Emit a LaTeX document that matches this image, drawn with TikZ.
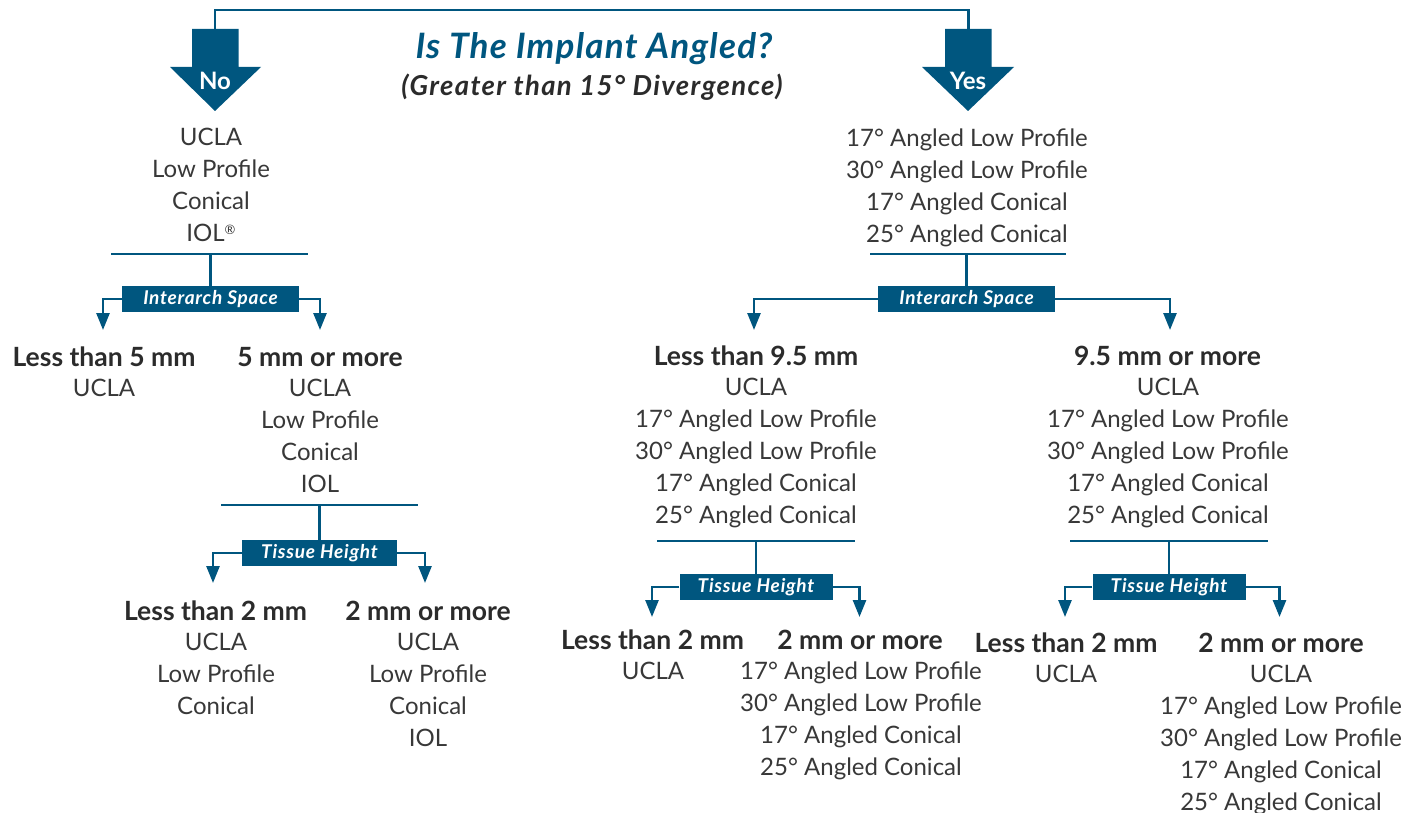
\documentclass[tikz,border=0pt]{standalone}
\usepackage{fontspec}
\setmainfont{Lato}
\usetikzlibrary{arrows.meta}
\definecolor{dblue}{HTML}{00567F}
\definecolor{txt}{HTML}{2B2B2B}
\definecolor{ltxt}{HTML}{383838}
\newcommand{\reg}{{\fontsize{13}{13}\selectfont\raisebox{7pt}{®}}}
\begin{document}
\begin{tikzpicture}[x=1pt,y=-1pt,
  conn/.style={draw=dblue, line width=2.6pt},
  arr/.style={conn, -{Triangle[width=13pt,length=17pt]}},
  lst/.style={align=center, anchor=base, inner sep=0pt, text=ltxt, font=\fontsize{24}{32}\selectfont},
  hd/.style={anchor=base, inner sep=0pt, text=txt, font=\fontsize{26.5}{30}\selectfont\bfseries},
  tag/.style={fill=dblue, text=white, inner sep=0pt, minimum height=26pt, font=\fontsize{19}{22}\selectfont\bfseries\itshape\addfontfeature{LetterSpace=4}},
  big/.style={fill=dblue},
  bigtxt/.style={text=white, font=\fontsize{24}{26}\selectfont\bfseries, inner sep=0pt}]
\useasboundingbox (0,0) rectangle (1418,813);

% big arrows
\fill[big] (192,29) -- (238.5,29) -- (238.5,67) -- (261,67) -- (215,111) -- (170,67) -- (192,67) -- cycle;
\fill[big] (945,29) -- (991.5,29) -- (991.5,67) -- (1014,67) -- (968,111) -- (922,67) -- (945,67) -- cycle;
\node[bigtxt] (noLbl) at (215,81) {No};
\node[bigtxt] (yesLbl) at (968,81) {Yes};
\coordinate (noTop) at (215,30);
\coordinate (yesTop) at (968.5,30);
\coordinate (topY) at (0,10);
\draw[conn] (noTop) -- (noTop |- topY) -| (yesTop);

% title
\node[anchor=base, text=dblue, inner sep=0pt, font=\fontsize{35}{38}\selectfont\bfseries\itshape\addfontfeature{LetterSpace=3.5}] (title) at (594,59) {Is The Implant Angled?};
\node[anchor=base, text=txt, inner sep=0pt, font=\fontsize{27.5}{30}\selectfont\bfseries\itshape\addfontfeature{LetterSpace=5}] (sub) at (592,96) {(Greater than 15° Divergence)};

% ---------- NO branch ----------
\node[lst] (nList) at (211,241) {UCLA\\Low Profile\\Conical\\IOL\reg};
\coordinate (nSepL) at (111,254); \coordinate (nSepR) at (308,254);
\draw[conn] (nSepL) -- (nSepR);
\node[tag, minimum width=177pt] (nIA) at (210.5,299) {Interarch Space};
\draw[conn] (nIA.north |- nSepL) -- (nIA.north);
\coordinate (nTipL) at (103,330); \coordinate (nTipR) at (320,330);
\draw[arr] (nIA.west) -| (nTipL);
\draw[arr] (nIA.east) -| (nTipR);

\node[hd] (hA) at (104,366) {Less than 5 mm};
\node[lst] (lA) at (104,396) {UCLA};
\node[hd] (hB) at (320,366) {5 mm or more};
\node[lst] (lB) at (320,492) {UCLA\\Low Profile\\Conical\\IOL};

\coordinate (bSepL) at (221,505); \coordinate (bSepR) at (418,505);
\draw[conn] (bSepL) -- (bSepR);
\node[tag, minimum width=155pt] (nTH) at (319.5,553) {Tissue Height};
\draw[conn] (nTH.north |- bSepL) -- (nTH.north);
\coordinate (bTipL) at (213,583); \coordinate (bTipR) at (425,583);
\draw[arr] (nTH.west) -| (bTipL);
\draw[arr] (nTH.east) -| (bTipR);

\node[hd] (hC) at (215.5,620) {Less than 2 mm};
\node[lst] (lC) at (216,714) {UCLA\\Low Profile\\Conical};
\node[hd] (hD) at (428,620) {2 mm or more};
\node[lst] (lD) at (428,746) {UCLA\\Low Profile\\Conical\\IOL};

% ---------- YES branch ----------
\node[lst] (yList) at (967,242) {17° Angled Low Profile\\30° Angled Low Profile\\17° Angled Conical\\25° Angled Conical};
\coordinate (ySepL) at (870,254); \coordinate (ySepR) at (1066,254);
\draw[conn] (ySepL) -- (ySepR);
\node[tag, minimum width=177pt] (yIA) at (966.5,299) {Interarch Space};
\draw[conn] (yIA.north |- ySepL) -- (yIA.north);
\coordinate (yTipL) at (754,330); \coordinate (yTipR) at (1170,330);
\draw[arr] (yIA.west) -| (yTipL);
\draw[arr] (yIA.east) -| (yTipR);

\node[hd] (hE) at (756,365) {Less than 9.5 mm};
\node[lst] (lE) at (756,523) {UCLA\\17° Angled Low Profile\\30° Angled Low Profile\\17° Angled Conical\\25° Angled Conical};
\node[hd] (hF) at (1167.5,365) {9.5 mm or more};
\node[lst] (lF) at (1168,523) {UCLA\\17° Angled Low Profile\\30° Angled Low Profile\\17° Angled Conical\\25° Angled Conical};

\coordinate (eSepL) at (657,541); \coordinate (eSepR) at (855,541);
\draw[conn] (eSepL) -- (eSepR);
\node[tag, minimum width=153pt] (mTH) at (756,587) {Tissue Height};
\draw[conn] (mTH.north |- eSepL) -- (mTH.north);
\coordinate (eTipL) at (652,617); \coordinate (eTipR) at (859.5,617);
\draw[arr] (mTH.west) -| (eTipL);
\draw[arr] (mTH.east) -| (eTipR);

\node[hd] (hG) at (652.5,649) {Less than 2 mm};
\node[lst] (lG) at (653,679) {UCLA};
\node[hd] (hH) at (860,649) {2 mm or more};
\node[lst] (lH) at (861,775) {17° Angled Low Profile\\30° Angled Low Profile\\17° Angled Conical\\25° Angled Conical};

\coordinate (fSepL) at (1070,541); \coordinate (fSepR) at (1268,541);
\draw[conn] (fSepL) -- (fSepR);
\node[tag, minimum width=153pt] (rTH) at (1169,587) {Tissue Height};
\draw[conn] (rTH.north |- fSepL) -- (rTH.north);
\coordinate (fTipL) at (1065,617); \coordinate (fTipR) at (1279.5,617);
\draw[arr] (rTH.west) -| (fTipL);
\draw[arr] (rTH.east) -| (fTipR);

\node[hd] (hI) at (1066,652) {Less than 2 mm};
\node[lst] (lI) at (1066,682) {UCLA};
\node[hd] (hJ) at (1281,652) {2 mm or more};
\node[lst] (lJ) at (1281,810) {UCLA\\17° Angled Low Profile\\30° Angled Low Profile\\17° Angled Conical\\25° Angled Conical};
\end{tikzpicture}
\end{document}
